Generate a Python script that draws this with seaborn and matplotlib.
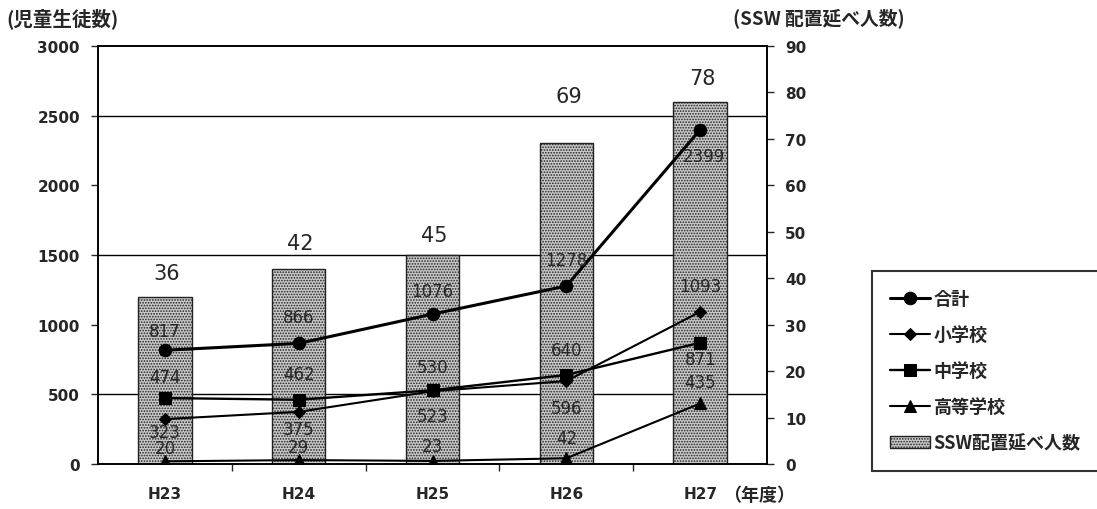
import numpy as np
import matplotlib
matplotlib.use("Agg")
import matplotlib.pyplot as plt
import seaborn as sns
from matplotlib.patches import Patch
from matplotlib.ticker import MultipleLocator

# データ
years = ["H23", "H24", "H25", "H26", "H27"]
ssw = [36, 42, 45, 69, 78]          # SSW配置延べ人数（右軸）
total = [817, 866, 1076, 1278, 2399]  # 合計
elem = [323, 375, 523, 596, 1093]     # 小学校
junior = [474, 462, 530, 640, 871]    # 中学校
high = [20, 29, 23, 42, 435]          # 高等学校

sns.set_style("white")
plt.rcParams["font.family"] = ["Noto Sans CJK JP", "DejaVu Sans"]
plt.rcParams["hatch.linewidth"] = 0.8

fig = plt.figure(figsize=(10.97, 5.10), dpi=100)
ax = fig.add_axes([0.0893, 0.088, 0.6100, 0.820])
ax2 = ax.twinx()

x = np.arange(len(years))
bar_face = "#c8c8c8"

# 棒グラフ（右軸）
sns.barplot(x=x, y=ssw, ax=ax2, color=bar_face, width=0.4,
            edgecolor="#222222", linewidth=1, hatch="......", saturation=1)
ax2.set_ylim(0, 90)
ax2.yaxis.set_major_locator(MultipleLocator(10))
ax2.set_yticks(np.arange(0, 91, 15), minor=True)
ax2.grid(which="minor", axis="y", color="black", linewidth=1)
ax2.grid(which="major", visible=False)
ax2.set_axisbelow(True)
ax2.tick_params(axis="y", which="minor", length=0)
ax2.tick_params(axis="y", which="major", direction="out", length=5, width=1, pad=8)
for t in ax2.get_yticklabels():
    t.set_family("DejaVu Sans")
    t.set_fontweight("bold")
    t.set_fontsize(11)
ax2.set_ylabel("")

# 棒の上の数値（ずらし量はピクセル）
bar_off = [24, 26, 20, 47, 24]
for i, v in enumerate(ssw):
    ax2.annotate(str(v), (i, v), xytext=(2, bar_off[i]), textcoords="offset pixels",
                 ha="center", va="center", fontsize=15, family="DejaVu Sans")

# 折れ線（左軸）
series = [
    ("合計", total, "o", 9, 2.2, [19, 26, 23, 26, -26]),
    ("小学校", elem, "D", 6, 1.5, [-13, -17, -25, -27, 26]),
    ("中学校", junior, "s", 8, 1.7, [21, 26, 23, 25, -16]),
    ("高等学校", high, "^", 8, 1.5, [13, 13, 15, 20, 21]),
]
for name, vals, mk, ms, lw, offs in series:
    sns.lineplot(x=x, y=vals, ax=ax, color="black", marker=mk, markersize=ms,
                 linewidth=lw, markeredgecolor="black", errorbar=None, label=name)
    for i, v in enumerate(vals):
        dx = 4 if offs[i] < -20 and name == "合計" else 0
        ax.annotate(str(v), (i, v), xytext=(dx, offs[i]), textcoords="offset pixels",
                    ha="center", va="center", fontsize=12, family="DejaVu Sans")

ax.set_zorder(ax2.get_zorder() + 1)
ax.patch.set_visible(False)
ax.set_ylim(0, 3000)
ax.yaxis.set_major_locator(MultipleLocator(500))
ax.tick_params(axis="y", direction="out", length=5, width=1, pad=8, left=True)
ax.set_xlim(-0.5, len(years) - 0.5)
ax.set_xticks(x)
ax.set_xticklabels(years)
ax.set_xticks(np.arange(0.5, len(years) - 0.5, 1), minor=True)
ax.tick_params(axis="x", which="major", length=0, pad=16)
ax.tick_params(axis="x", which="minor", length=5, width=1, direction="out", bottom=True)
for t in ax.get_yticklabels() + ax.get_xticklabels():
    t.set_family("DejaVu Sans")
    t.set_fontweight("bold")
    t.set_fontsize(11)
ax.set_ylabel("")
ax.set_xlabel("")
if ax.get_legend():
    ax.get_legend().remove()

for a in (ax, ax2):
    for s in a.spines.values():
        s.set_color("black")
        s.set_linewidth(1.2)

# 軸タイトル
fig.text(0.006, 0.963, "(児童生徒数)", fontsize=14, fontweight="bold", va="center")
fig.text(0.668, 0.965, "(SSW 配置延べ人数)", fontsize=13.5, fontweight="bold", va="center")
fig.text(0.659, 0.029, "（年度）", fontsize=13, fontweight="bold", va="center")

# 凡例
handles = [l for l in ax.get_lines()][:4]
handles.append(Patch(facecolor=bar_face, edgecolor="#222222", hatch="......"))
labels = ["合計", "小学校", "中学校", "高等学校", "SSW配置延べ人数"]
leg = fig.legend(handles, labels, loc="upper left", bbox_to_anchor=(0.795, 0.467),
                 frameon=True, fancybox=False, edgecolor="black",
                 prop={"size": 13, "weight": "bold"},
                 handlelength=2.2, handletextpad=0.2, labelspacing=0.95,
                 borderpad=1.0, borderaxespad=0)
leg.get_frame().set_linewidth(1.5)

fig.savefig("out.png", dpi=100)
